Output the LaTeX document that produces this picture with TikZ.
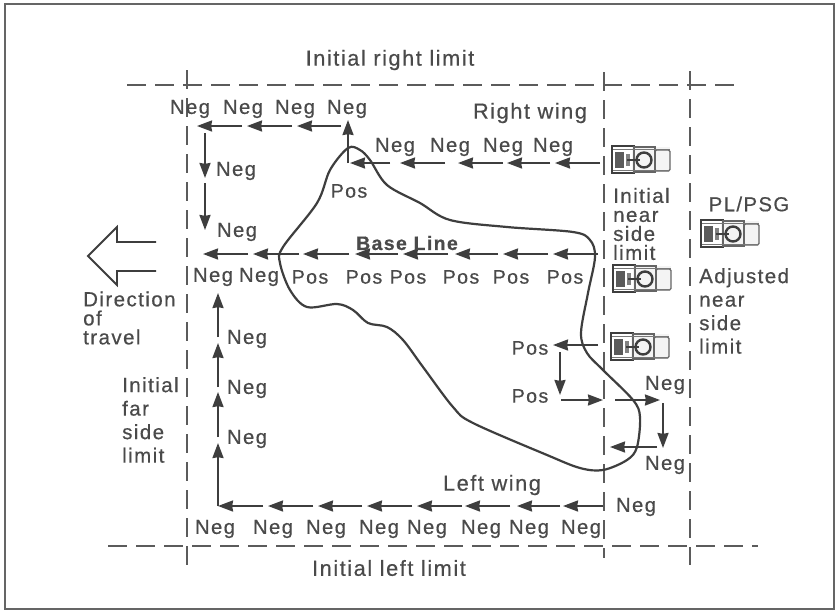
\documentclass[tikz,border=0pt]{standalone}
\usepackage{fontspec}
\setmainfont{Liberation Sans}[LetterSpace=7,FakeBold=0.5]
\usetikzlibrary{arrows.meta}
\definecolor{ink}{HTML}{3E3E3E}
\definecolor{soft}{HTML}{4A4A4A}
\tikzset{
  lab/.style={text=soft,inner sep=0pt,font=\fontsize{20.3}{22}\selectfont},
  lap/.style={text=soft,inner sep=0pt,font=\fontsize{19.6}{22}\selectfont},
  captext/.style={text=soft,inner sep=0pt,font=\fontsize{21.8}{24}\selectfont},
  blockA/.style={text=soft,inner sep=0pt,anchor=west,align=left,font=\fontsize{20.5}{19}\selectfont},
  blockB/.style={text=soft,inner sep=0pt,anchor=west,align=left,font=\fontsize{20.5}{23.5}\selectfont},
  arr/.style={draw=ink,line width=2pt,-{Stealth[length=15pt,width=11pt,inset=.8pt]}},
  limit/.style={draw=ink!85,line width=2.6pt,dash pattern=on 19pt off 9pt},
  blob/.style={draw=ink,line width=2.2pt},
  frame/.style={draw=ink!80,line width=2.6pt},
  hollow/.style={draw=ink,line width=1.8pt,line join=miter},
  vehicle/.pic={
    \fill[ink!6] (20,1) rectangle (58,26);
    \draw[ink,line width=1.5pt] (0,0) rectangle (22,27);
    \draw[ink!80,line width=1.3pt] (22,1) rectangle (43,26);
    \draw[ink!80,line width=1.3pt,rounded corners=1.5pt] (43,4) rectangle (58,25);
    \draw[ink!70,line width=.9pt] (1,3) -- (58,3);
    \draw[ink!70,line width=.9pt] (1,24) -- (58,24);
    \fill[ink!85] (3,6) rectangle (12,22);
    \fill[ink!65] (14,8) rectangle (18,20);
    \draw[ink,line width=2.4pt] (32,14) circle (7.5);
    \draw[ink,line width=1.4pt] (15,14) -- (28,14);
  }
}
\begin{document}
\begin{tikzpicture}[x=1pt,y=-1pt]
\useasboundingbox (0,0) rectangle (838,611);
\fill[white] (0,0) rectangle (838,611);
\draw[frame] (5,4) rectangle (834,609);

% limits
\coordinate (tl) at (127,85); \coordinate (tr) at (737,85);
\coordinate (bl) at (108,546); \coordinate (br) at (758,546);
\coordinate (v1a) at (187,70); \coordinate (v1b) at (187,565);
\coordinate (v2a) at (604,72); \coordinate (v2b) at (604,558);
\coordinate (v3a) at (690,71); \coordinate (v3b) at (690,565);
\draw[limit] (tl) -- (tr);
\draw[limit] (bl) -- (br);
\draw[limit] (v1a) -- (v1b);
\draw[limit] (v2a) -- (v2b);
\draw[limit] (v3a) -- (v3b);

% area outline
\draw[blob] plot[smooth cycle,tension=.55] coordinates {
 (348,148) (360,150) (370,160) (387,185) (420,203) (450,220) (507,227) (573,232)
 (590,240) (595,257) (588,293) (581,333) (587,353) (603,370) (633,400) (640,417)
 (637,447) (627,460) (603,470) (580,468) (547,455) (473,423) (453,407) (423,367)
 (403,340) (387,327) (368,323) (353,310) (337,304) (307,307) (290,290) (280,263)
 (283,247) (317,203) (330,170)};

% direction arrow
\coordinate (d1) at (156,242); \coordinate (d2) at (117,242); \coordinate (d3) at (117,227);
\coordinate (d4) at (88,256); \coordinate (d5) at (117,285); \coordinate (d6) at (117,271);
\coordinate (d7) at (156,271);
\draw[hollow] (d1) -- (d2) -- (d3) -- (d4) -- (d5) -- (d6) -- (d7);

% horizontal chains: tail/head
\foreach \t/\h [count=\i] in {598/553,548/503,498/455,448/403,398/355,349/303,299/253,248/203}{
  \coordinate (bt\i) at (\t,254); \coordinate (bh\i) at (\h,254);
  \draw[arr] (bt\i) -- (bh\i);}
\foreach \t/\h [count=\i] in {600/555,550/507,503/458,445/400,390/350}{
  \coordinate (rt\i) at (\t,163); \coordinate (rh\i) at (\h,163);
  \draw[arr] (rt\i) -- (rh\i);}
\foreach \t/\h [count=\i] in {341/297,292/247,242/197}{
  \coordinate (tt\i) at (\t,126); \coordinate (th\i) at (\h,126);
  \draw[arr] (tt\i) -- (th\i);}
\foreach \t/\h [count=\i] in {603/563,560/517,510/465,462/417,412/367,362/318,313/268,263/218}{
  \coordinate (lt\i) at (\t,506); \coordinate (lh\i) at (\h,506);
  \draw[arr] (lt\i) -- (lh\i);}
% vertical chains
\coordinate (up1) at (348,163); \coordinate (up2) at (348,120);
\draw[arr] (up1) -- (up2);
\foreach \t/\h [count=\i] in {133/178,183/230}{
  \coordinate (dt\i) at (205,\t); \coordinate (dh\i) at (205,\h);
  \draw[arr] (dt\i) -- (dh\i);}
\foreach \t/\h [count=\i] in {506/443,437/392,387/343,337/293}{
  \coordinate (ut\i) at (218,\t); \coordinate (uh\i) at (218,\h);
  \draw[arr] (ut\i) -- (uh\i);}
% near-side turn
\coordinate (p1) at (598,345); \coordinate (p2) at (553,345);
\coordinate (p3) at (560,352); \coordinate (p4) at (560,395);
\coordinate (p5) at (561,400); \coordinate (p6) at (603,400);
\coordinate (p7) at (615,400); \coordinate (p8) at (660,400);
\coordinate (p9) at (663,403); \coordinate (p10) at (663,448);
\coordinate (p11) at (657,447); \coordinate (p12) at (610,447);
\draw[arr] (p1) -- (p2);
\draw[arr] (p3) -- (p4);
\draw[arr] (p5) -- (p6);
\draw[arr] (p7) -- (p8);
\draw[arr] (p9) -- (p10);
\draw[arr] (p11) -- (p12);

% Neg / Pos labels
\foreach \x [count=\i] in {190,243,295,347}{\node[lab] (nt\i) at (\x,109) {Neg};}
\foreach \x [count=\i] in {395,450,503,553}{\node[lab] (nr\i) at (\x,147) {Neg};}
\node[lab] (nd1) at (236,171) {Neg};
\node[lab] (nd2) at (237,232) {Neg};
\node[lap] (ps0) at (349,191) {Pos};
\node[lab] (nb1) at (213,277) {Neg};
\node[lab] (nb2) at (259,277) {Neg};
\foreach \x [count=\i] in {310,364,408,461,511,565}{\node[lap] (pb\i) at (\x,277) {Pos};}
\foreach \y [count=\i] in {339,389,439}{\node[lab] (nu\i) at (247,\y) {Neg};}
\foreach \x [count=\i] in {215,273,326,379,427,481,529,581}{\node[lab] (nl\i) at (\x,529) {Neg};}
\node[lab] (nx1) at (636,507) {Neg};
\node[lap] (px1) at (530,348) {Pos};
\node[lap] (px2) at (530,396) {Pos};
\node[lab] (nx2) at (665,385) {Neg};
\node[lab] (nx3) at (665,465) {Neg};

% captions
\node[captext] (c1) at (390,60) {Initial right limit};
\node[captext] (c2) at (530,113) {Right wing};
\node[lab,font=\fontsize{19.5}{20}\selectfont\bfseries] (c3) at (407,243) {Base Line};
\node[captext] (c4) at (492,485) {Left wing};
\node[captext] (c5) at (389,568) {Initial left limit};
\node[lab] (c6) at (749,204) {PL/PSG};
\node[blockA] (c7) at (83,318) {Direction\\of\\travel};
\node[blockB] (c8) at (122,420) {Initial\\far\\side\\limit};
\node[blockA] (c9) at (613,224) {Initial\\near\\side\\limit};
\node[blockB] (c10) at (699,311) {Adjusted\\near\\side\\limit};

% vehicles
\pic at (612,146) {vehicle};
\pic at (613,265) {vehicle};
\pic at (611,333) {vehicle};
\pic at (701,220) {vehicle};
\end{tikzpicture}
\end{document}
